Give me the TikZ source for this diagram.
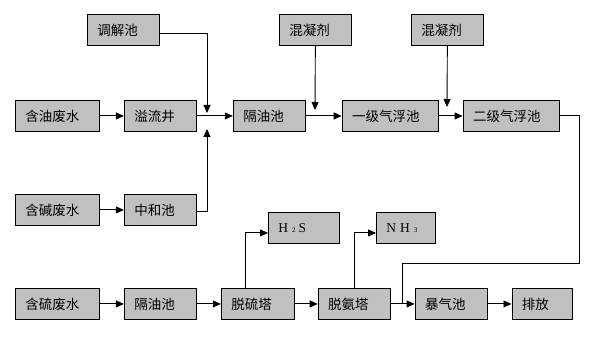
\documentclass[tikz,border=0pt]{standalone}
\usepackage{fontspec}
\setmainfont{Noto Sans CJK SC}
\newfontfamily\latfont{Liberation Serif}
\usepackage{xcolor}
\usetikzlibrary{positioning, arrows.meta}
\definecolor{boxgray}{HTML}{C0C0C0}

\begin{document}
\begin{tikzpicture}[x=1pt, y=-1pt, >={Triangle[length=8pt,width=7pt]}, node distance=24pt,
    box/.style={draw, line width=0.9pt, fill=boxgray, minimum height=31pt, minimum width=#1pt,
      inner xsep=10pt, inner ysep=0pt, align=left, font=\fontsize{13.5}{15}\selectfont,
      /utils/exec={\pgfmathsetmacro\boxtw{#1-20}}, text width=\boxtw pt},
    flow/.style={->, line width=0.9pt}]
    \useasboundingbox (0,0) rectangle (600,347);

    % oily water line
    \node[box=84, anchor=north west] (yfs) at (15,100) {含油废水};
    \node[box=72, right=of yfs] (ylj) {溢流井};
    \node[box=72, right=36pt of ylj] (gyc) {隔油池};
    \node[box=96, right=36pt of gyc] (yjqf) {一级气浮池};
    \node[box=96, right=of yjqf] (ejqf) {二级气浮池};
    \node[box=72, anchor=north west] (tjc) at (87,14) {调解池};
    \node[box=72, anchor=north west] (hnj1) at (279,14) {混凝剂};
    \node[box=72, anchor=north west] (hnj2) at (411,14) {混凝剂};

    % alkaline water line
    \node[box=84, anchor=north west] (jfs) at (15,194) {含碱废水};
    \node[box=72, right=of jfs] (zhc) {中和池};

    % sulphur water line
    \node[box=84, anchor=north west] (lfs) at (15,288) {含硫废水};
    \node[box=72, right=of lfs] (gyc2) {隔油池};
    \node[box=73, right=of gyc2] (tlt) {脱硫塔};
    \node[box=72, right=23pt of tlt] (tat) {脱氨塔};
    \node[box=72, right=of tat] (bqc) {暴气池};
    \node[box=60, right=of bqc] (pf) {排放};
    \node[box=71, anchor=north west] (hs) at (268,212)
        {\latfont H\hspace{4pt}{\fontsize{7}{8}\selectfont 2}\hspace{3pt}S};
    \node[box=59, anchor=north west] (nh) at (376,212)
        {\latfont N\hspace{4pt}H\hspace{4pt}{\fontsize{7}{8}\selectfont 3}};

    \coordinate (m1) at (207,113);
    \coordinate (m2) at (207,129);
    \coordinate (d1) at (315,110);
    \coordinate (d2) at (447,107);
    \coordinate (r1) at (579,263);
    \coordinate (r2) at ([xshift=-12pt]bqc.west);

    \draw[flow] (yfs) -- (ylj);
    \draw[flow] (ylj) -- (gyc);
    \draw[flow] (gyc) -- (yjqf);
    \draw[flow] (yjqf) -- (ejqf);
    \draw[flow] ([yshift=-4pt]tjc.east) -| (m1);
    \draw[flow] ([yshift=-2pt]zhc.east) -| (m2);
    \draw[flow] (hnj1) -- (d1);
    \draw[flow] (hnj2) -- (d2);
    \draw[flow] (jfs) -- (zhc);
    \draw[flow] (lfs) -- (gyc2);
    \draw[flow] (gyc2) -- (tlt);
    \draw[flow] (tlt) -- (tat);
    \draw[flow] (tat) -- (bqc);
    \draw[flow] (bqc) -- (pf);
    \draw[flow] ([xshift=-12pt]tlt.north) |- ([yshift=-5pt]hs.west);
    \draw[flow] (tat.north) |- ([yshift=-5pt]nh.west);
    \draw[line width=0.9pt] (ejqf.east) -| (r1) -| (r2);
\end{tikzpicture}
\end{document}
